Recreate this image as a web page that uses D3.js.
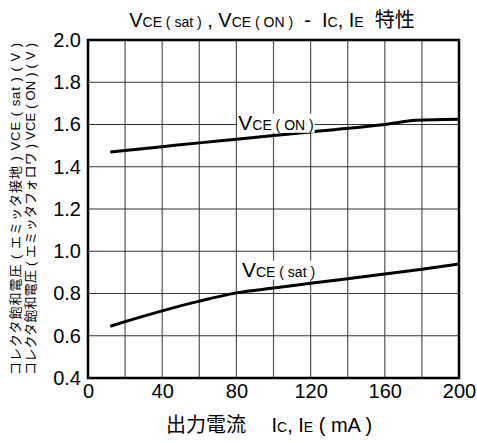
<!DOCTYPE html>
<html><head><meta charset="utf-8">
<script src="https://cdn.jsdelivr.net/npm/d3@7"></script>
<style>
body{margin:0;background:#fff;}
text{font-family:"Liberation Sans",Arial,"Noto Sans CJK JP",sans-serif;fill:#000;}
</style></head>
<body><svg id="c" width="477" height="443"></svg>
<script>
const xTicks = [0, 40, 80, 120, 160, 200];
const yTicks = [0.4, 0.6, 0.8, 1.0, 1.2, 1.4, 1.6, 1.8, 2.0];
const currentOn = [12, 40, 60, 80, 120, 150, 160, 177, 200];
const vceOn = [1.47, 1.495, 1.513, 1.53, 1.565, 1.59, 1.60, 1.62, 1.625];
const currentSat = [12, 20, 40, 60, 80, 100, 120, 140, 160, 180, 200];
const vceSat = [0.645, 0.667, 0.718, 0.764, 0.803, 0.826, 0.848, 0.870, 0.892, 0.915, 0.94];

const svg = d3.select("#c");
const x = d3.scaleLinear().domain([0, 200]).range([88, 459]);
const y = d3.scaleLinear().domain([0.4, 2.0]).range([378, 40]);

// grid
const g = svg.append("g");
g.selectAll(".vg").data(d3.range(20, 200, 20)).join("line")
  .attr("x1", d => x(d)).attr("x2", d => x(d)).attr("y1", y(2.0)).attr("y2", y(0.4))
  .attr("stroke", "#555").attr("stroke-width", 1.2);
g.selectAll(".hg").data(d3.range(0.6, 1.95, 0.2)).join("line")
  .attr("x1", x(0)).attr("x2", x(200)).attr("y1", d => y(d)).attr("y2", d => y(d))
  .attr("stroke", "#333").attr("stroke-width", 1.2);

// curves
const line = d3.line().x(d => x(d[0])).y(d => y(d[1])).curve(d3.curveMonotoneX);
svg.append("path").datum(currentOn.map((c, i) => [c, vceOn[i]]))
  .attr("d", line).attr("fill", "none").attr("stroke", "#000").attr("stroke-width", 3);
svg.append("path").datum(currentSat.map((c, i) => [c, vceSat[i]]))
  .attr("d", line).attr("fill", "none").attr("stroke", "#000").attr("stroke-width", 3);

// curve labels with white background
function label(xv, yv, sub) {
  const t = svg.append("text").attr("x", x(xv)).attr("y", y(yv)).style("white-space","pre");
  t.append("tspan").attr("font-size", 21).text("V");
  t.append("tspan").attr("font-size", 14).text(sub);
  const b = t.node().getBBox();
  svg.insert("rect", "text").attr("x", b.x - 1).attr("y", b.y + 3).attr("width", b.width + 2).attr("height", b.height - 4).attr("fill", "#fff");
}
label(81, 1.575, "CE ( ON )");
label(83, 0.88, "CE ( sat )");

// frame
svg.append("rect").attr("x", x(0)).attr("y", y(2.0)).attr("width", x(200) - x(0)).attr("height", y(0.4) - y(2.0))
  .attr("fill", "none").attr("stroke", "#000").attr("stroke-width", 2.5);

// axes
const xa = svg.append("g").attr("transform", `translate(0,${y(0.4)})`)
  .call(d3.axisBottom(x).tickValues(xTicks).tickSize(0).tickPadding(6).tickFormat(d3.format("d")));
xa.select(".domain").remove();
xa.selectAll("text").attr("font-size", 20).attr("font-family", "Liberation Sans, Arial");
const ya = svg.append("g").attr("transform", `translate(${x(0)},0)`)
  .call(d3.axisLeft(y).tickValues(yTicks).tickSize(0).tickPadding(7).tickFormat(d3.format(".1f")));
ya.select(".domain").remove();
ya.selectAll("text").attr("font-size", 20).attr("font-family", "Liberation Sans, Arial");

// title
const tt = svg.append("text").attr("x", 272).attr("y", 27).attr("text-anchor", "middle").style("white-space","pre");
[["V",20],["CE ( sat )",14],[" , V",20],["CE ( ON )",14],["  -  I",20],["C",14],[", I",20],["E",14],["  特性",20]]
  .forEach(([s, f]) => tt.append("tspan").attr("font-size", f).text(s));

// x label
const xl = svg.append("text").attr("x", 269).attr("y", 432).attr("text-anchor", "middle").style("white-space","pre");
[["出力電流　 I",20],["C",14],[", I",20],["E",14],[" ( mA )",20]]
  .forEach(([s, f]) => xl.append("tspan").attr("font-size", f).text(s));

// y label (two lines)
const ylines = ["コレクタ飽和電圧 ( エミッタ接地 ) VCE ( sat ) ( V )", "コレクタ飽和電圧 ( エミッタフォロワ ) VCE ( ON ) ( V )"];
ylines.forEach((s, i) => {
  svg.append("text").attr("transform", `translate(${20 + i * 15},375) rotate(-90)`)
    .attr("font-size", 13).attr("font-family", "Noto Sans CJK JP, sans-serif")
    .attr("textLength", 332).attr("lengthAdjust", "spacing").text(s);
});
</script></body></html>
